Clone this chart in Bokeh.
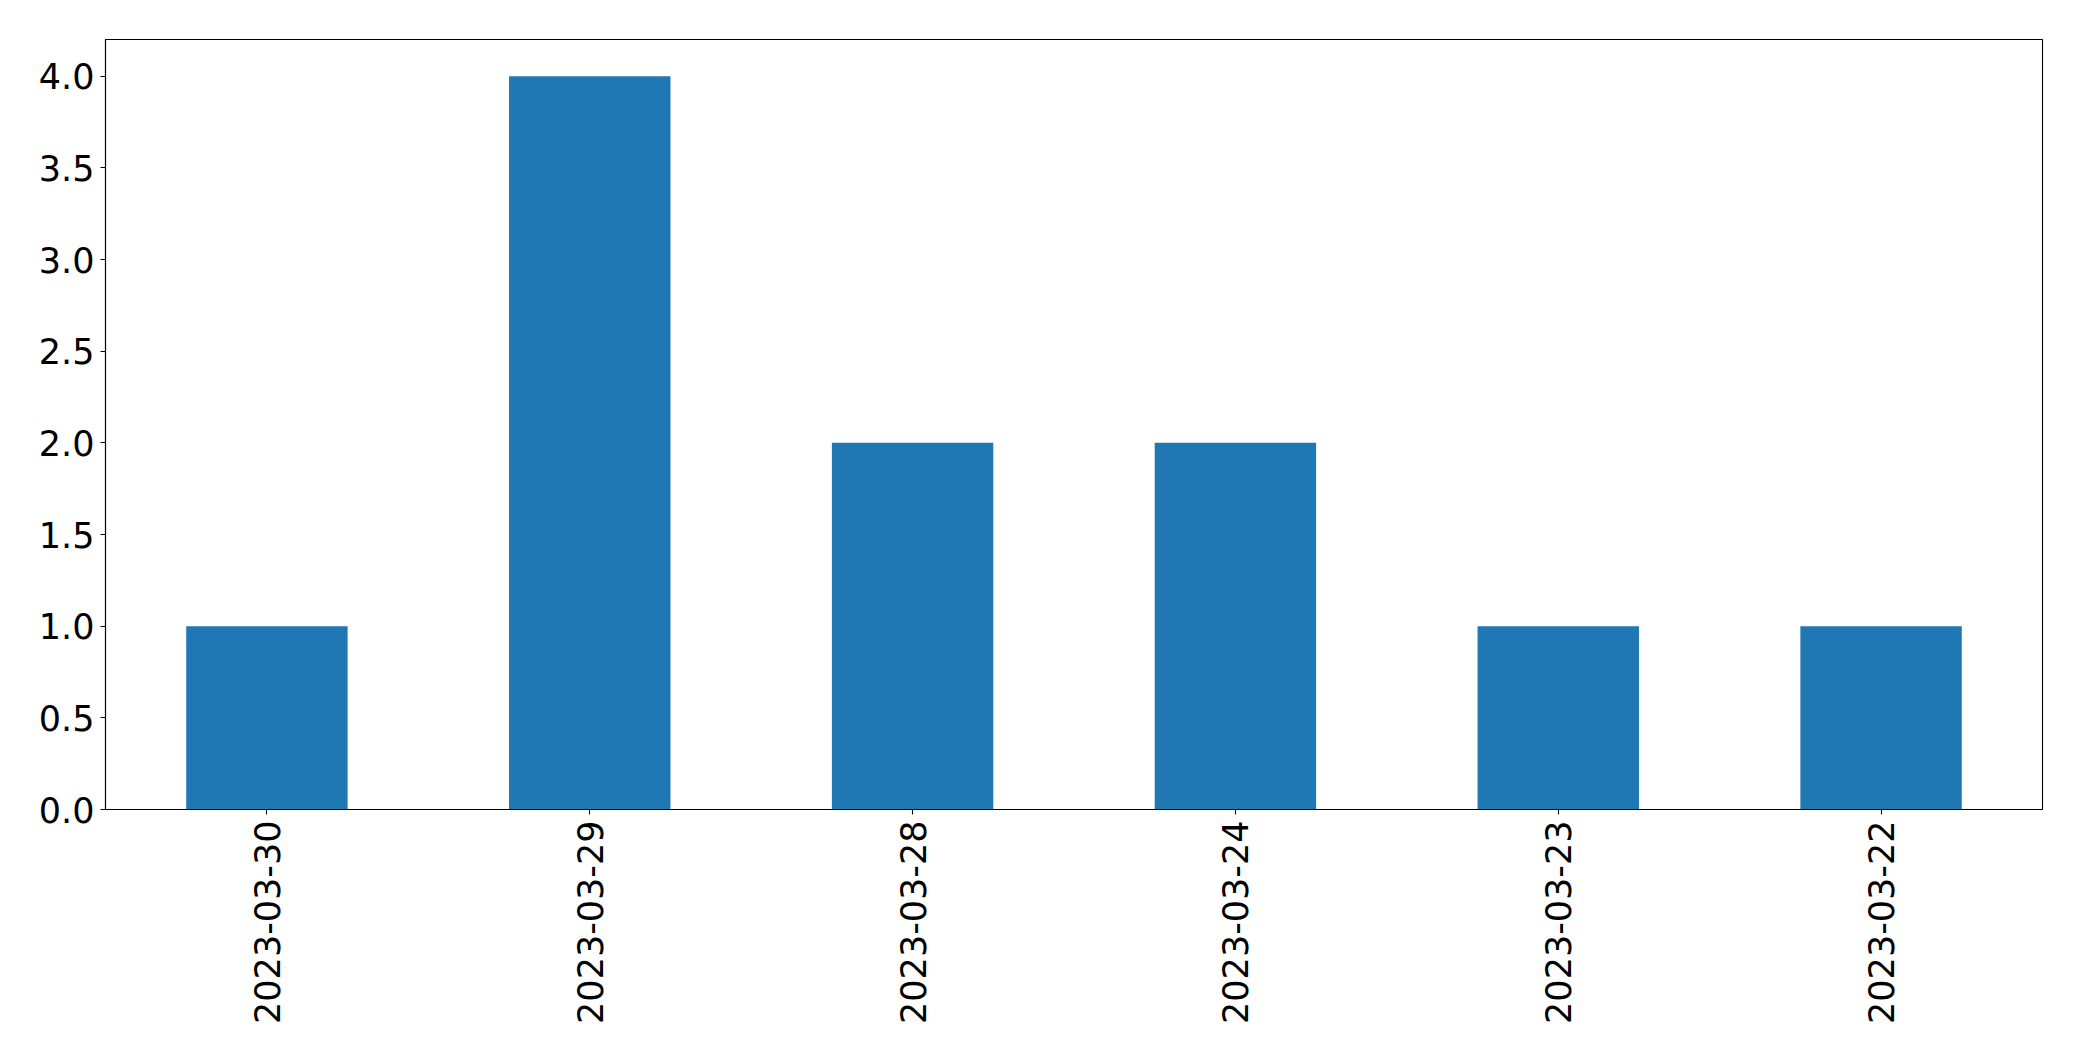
from bokeh.plotting import figure
from bokeh.models import FactorRange, Range1d, FixedTicker, PrintfTickFormatter
from bokeh.embed import file_html
from bokeh.resources import INLINE
import math

dates = ["2023-03-30", "2023-03-29", "2023-03-28", "2023-03-24", "2023-03-23", "2023-03-22"]
counts = [1, 4, 2, 2, 1, 1]
y_ticks = [0.0, 0.5, 1.0, 1.5, 2.0, 2.5, 3.0, 3.5, 4.0]

p = figure(
    x_range=FactorRange(*dates),
    y_range=Range1d(0, 4.2),
    frame_width=1937, frame_height=770,
    min_border_left=105, min_border_right=31, min_border_top=39, min_border_bottom=230,
    output_backend="svg", toolbar_location=None,
)
p.vbar(x=dates, top=counts, width=0.5, fill_color="#1f77b4", line_color=None)

p.xgrid.visible = False
p.ygrid.visible = False
p.outline_line_color = "black"
p.outline_line_width = 1.1
p.outline_line_alpha = 1.0

for ax in (p.xaxis[0], p.yaxis[0]):
    ax.major_label_text_font = "DejaVu Sans"
    ax.major_label_text_font_size = "35px"
    ax.major_label_text_color = "black"
    ax.axis_line_color = "black"
    ax.axis_line_width = 1.1
    ax.major_tick_line_color = "black"
    ax.major_tick_line_width = 1.1
    ax.major_tick_in = 0
    ax.major_tick_out = 5
    ax.minor_tick_line_color = None
    ax.major_label_standoff = 6

p.yaxis[0].ticker = FixedTicker(ticks=y_ticks)
p.yaxis[0].formatter = PrintfTickFormatter(format="%.1f")
p.xaxis[0].major_label_orientation = math.pi / 2

open("out.html", "w").write(file_html(p, INLINE))
